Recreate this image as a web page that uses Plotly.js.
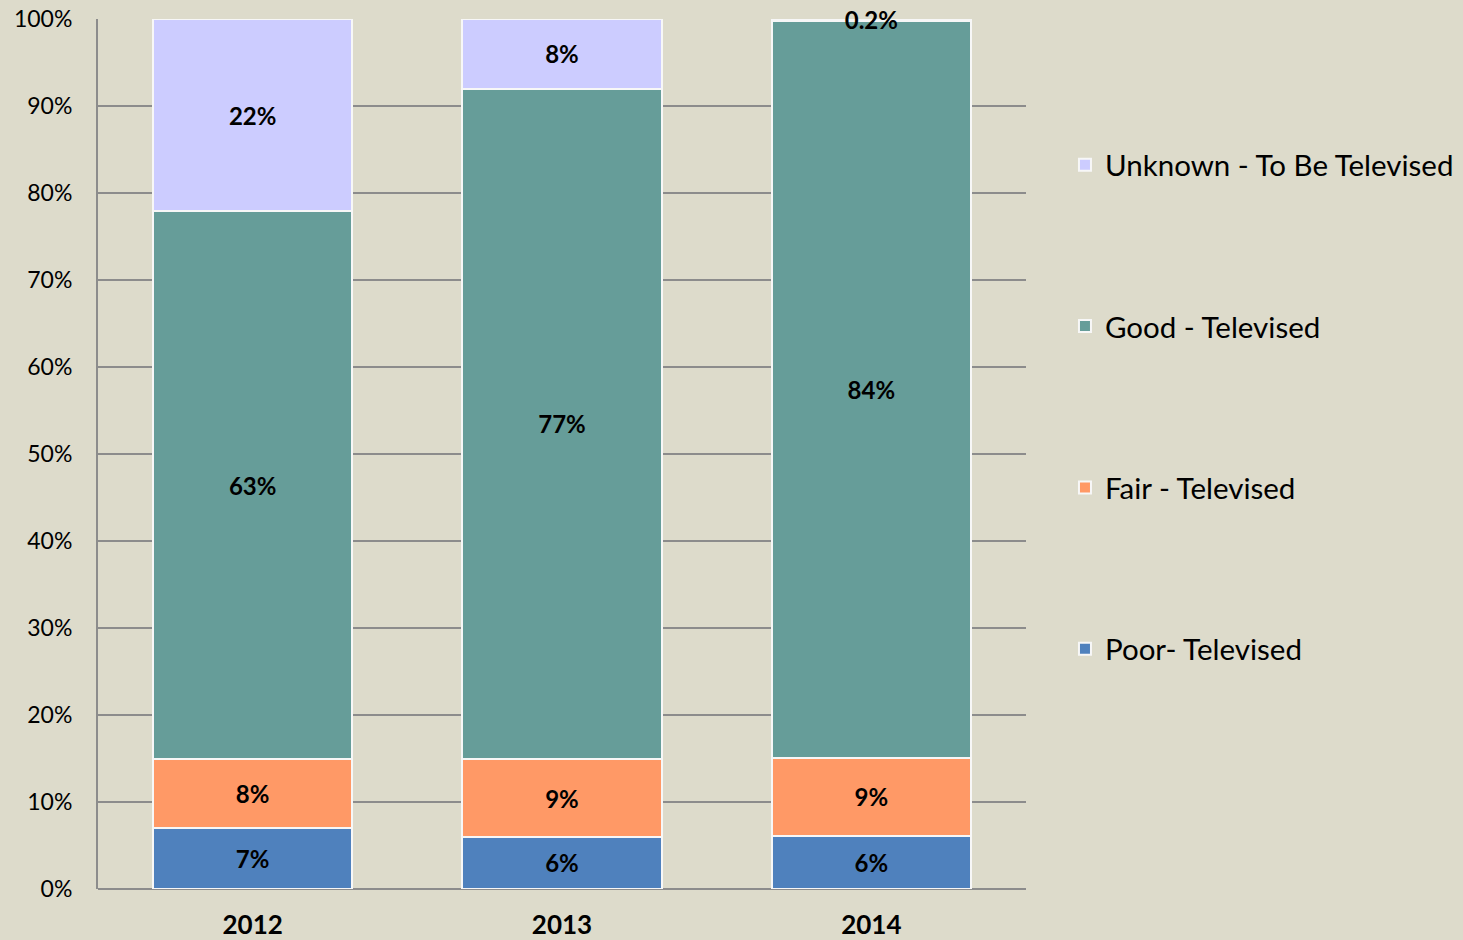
<!DOCTYPE html>
<html>
<head>
<meta charset="utf-8">
<script src="https://cdn.plot.ly/plotly-3.0.1.min.js"></script>
<style>html,body{margin:0;padding:0;background:#DDDBCB;}#chart{width:1463px;height:940px;}</style>
</head>
<body>
<div id="chart"></div>
<script>
const years = ['2012', '2013', '2014'];
const poor = [7.0, 6.0, 6.1];
const fair = [7.9, 8.9, 9.0];
const good = [63.0, 77.1, 84.7];
const unknown = [22.1, 8.0, 0.2];
const poorLabels = ['7%', '6%', '6%'];
const fairLabels = ['8%', '9%', '9%'];
const goodLabels = ['63%', '77%', '84%'];
const unknownLabels = ['22%', '8%', '0.2%'];
const seriesNames = ['Poor- Televised', 'Fair - Televised', 'Good - Televised', 'Unknown - To Be Televised'];
const colors = ['#4F81BD', '#FF9966', '#669D99', '#CCCCFF'];

const FONT = 'Lato, "Open Sans", sans-serif';
const vals = [poor, fair, good, unknown];
const labs = [poorLabels, fairLabels, goodLabels, unknownLabels];

const traces = vals.map((v, i) => ({
  type: 'bar',
  x: years,
  y: v,
  name: seriesNames[i],
  legendgroup: 'g' + i,
  legendrank: 10 - i,
  text: labs[i],
  textposition: 'inside',
  insidetextanchor: 'middle',
  textangle: 0,
  constraintext: 'none',
  cliponaxis: false,
  textfont: {family: FONT, size: 24, color: '#000000', weight: 'bold'},
  marker: {color: colors[i], line: {color: '#F7F7F7', width: 2}},
  hoverinfo: 'none'
}));

const layout = {
  width: 1463,
  height: 940,
  barmode: 'stack',
  bargap: 0.356,
  paper_bgcolor: '#DDDBCB',
  plot_bgcolor: '#DDDBCB',
  margin: {l: 98, r: 437, t: 19, b: 51, autoexpand: false},
  showlegend: true,
  legend: {
    x: 1.042, xanchor: 'left',
    y: 0.554, yanchor: 'middle',
    traceorder: 'grouped',
    tracegroupgap: 120,
    font: {family: FONT, size: 29.5, color: '#000000'},
    bgcolor: 'rgba(0,0,0,0)'
  },
  xaxis: {
    type: 'category',
    showgrid: false,
    showline: false,
    ticks: '',
    ticklabelstandoff: 18,
    tickfont: {family: FONT, size: 26, color: '#000000', weight: 'bold'}
  },
  yaxis: {
    range: [0, 100],
    dtick: 10,
    ticksuffix: '%',
    showgrid: true,
    gridcolor: '#8C8C8C',
    gridwidth: 2,
    showline: true,
    linecolor: '#8C8C8C',
    linewidth: 2,
    zeroline: true,
    zerolinecolor: '#8C8C8C',
    zerolinewidth: 2,
    ticks: '',
    ticklabelstandoff: 19,
    tickfont: {family: FONT, size: 23, color: '#000000'}
  },
  hovermode: false
};

Plotly.newPlot('chart', traces, layout, {displayModeBar: false, staticPlot: true});
</script>
</body>
</html>
